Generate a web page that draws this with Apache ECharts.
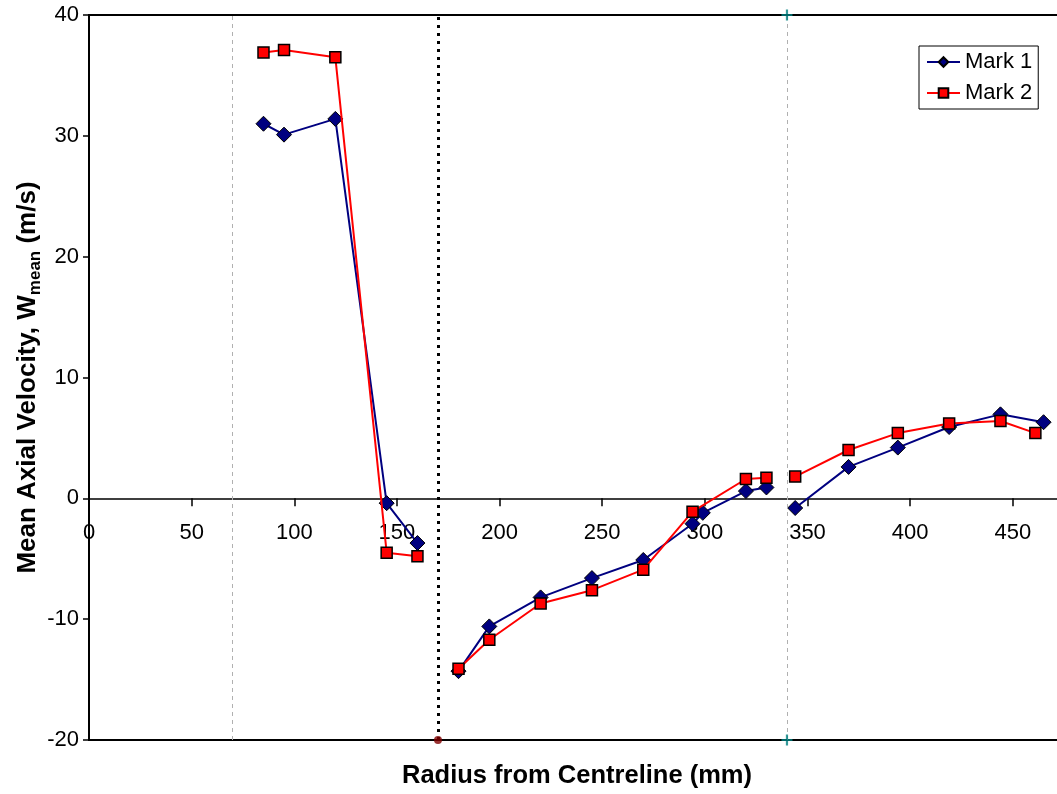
<!DOCTYPE html>
<html>
<head>
<meta charset="utf-8">
<script src="https://cdn.jsdelivr.net/npm/echarts@6/dist/echarts.min.js"></script>
<style>html,body{margin:0;padding:0;background:#fff}#c{width:1057px;height:794px}</style>
</head>
<body>
<div id="c"></div>
<script>
// Data (x in mm, y in m/s); null marks a gap in the line
var x1 =    [85, 95, 120, 145, 160, 170, 180, 195, 220, 245, 270, 294, 299, 320, 330, 337, 344, 370, 394, 419, 444, 465];
var mark1 = [31.0, 30.1, 31.4, -0.4, -3.7, null, -14.3, -10.6, -8.2, -6.6, -5.1, -2.1, -1.2, 0.6, 0.9, null, -0.8, 2.6, 4.2, 5.9, 6.95, 6.3];
var x2 =    [85, 95, 120, 145, 160, 170, 180, 195, 220, 245, 270, 294, 320, 330, 337, 344, 370, 394, 419, 444, 461];
var mark2 = [36.9, 37.1, 36.5, -4.5, -4.8, null, -14.1, -11.7, -8.7, -7.6, -5.9, -1.1, 1.6, 1.7, null, 1.8, 4.0, 5.4, 6.2, 6.4, 5.4];
var guideLinesGray = [70, 340];
var guideLineBlack = 170;
var crossPts = [[340, 40], [340, -20]];
var dotPts = [[170, -20]];
var xTicks = [0, 50, 100, 150, 200, 250, 300, 350, 400, 450];
var yTicks = [-20, -10, 0, 10, 20, 30, 40];

function pairs(xs, ys) { return xs.map(function (x, i) { return [x, ys[i] === null ? '-' : ys[i]]; }); }

var FONT = 'Liberation Sans, Arial, sans-serif';
var chart = echarts.init(document.getElementById('c'), null, {renderer: 'canvas'});
var crossPath = 'path://M4,0 L6,0 L6,4 L10,4 L10,6 L6,6 L6,10 L4,10 L4,6 L0,6 L0,4 L4,4 Z';
var X_MAX = 473;
var xLabelFmt = function (v) { return xTicks.indexOf(v) >= 0 ? String(v) : ''; };

chart.setOption({
  animation: false,
  backgroundColor: '#fff',
  title: {
    text: 'Radius from Centreline (mm)', left: 577, top: 763, textAlign: 'center', padding: 0,
    textStyle: {fontFamily: FONT, fontSize: 25.5, fontWeight: 'bold', color: '#000'}
  },
  grid: {left: 89, right: -3, top: 15, bottom: 54, containLabel: false, outerBoundsMode: 'none',
    show: true, borderColor: '#000', borderWidth: 2, backgroundColor: 'transparent'},
  legend: {
    left: 919, top: 46, orient: 'vertical',
    backgroundColor: '#fff', borderColor: '#000', borderWidth: 1,
    padding: [5, 6, 5, 7], itemGap: 9, itemWidth: 33, itemHeight: 12,
    textStyle: {fontFamily: FONT, fontSize: 22, color: '#000'},
    data: ['Mark 1', 'Mark 2']
  },
  xAxis: [{
    type: 'value', min: 0, max: X_MAX, interval: 50, z: 0,
    axisLine: {onZero: true, lineStyle: {color: '#000', width: 1.5}},
    axisTick: {show: true, length: 8, lineStyle: {color: '#000', width: 1.5}},
    axisLabel: {show: false},
    splitLine: {show: false}
  }, {
    type: 'value', min: 0, max: X_MAX, interval: 50, position: 'bottom', offset: -242, z: 0,
    axisLine: {show: false, onZero: false},
    axisTick: {show: false},
    axisLabel: {fontFamily: FONT, fontSize: 22, color: '#000', margin: 24, showMaxLabel: false, formatter: xLabelFmt},
    splitLine: {show: false}
  }],
  yAxis: {
    type: 'value', min: -20, max: 40, interval: 10,
    name: '{a|Mean Axial Velocity, W}{s|mean}{a| (m/s)}', nameLocation: 'middle', nameGap: 48, nameRotate: 90,
    nameMoveOverlap: false,
    nameTextStyle: {rich: {
      a: {fontFamily: FONT, fontSize: 26, fontWeight: 'bold', color: '#000', lineHeight: 28, verticalAlign: 'bottom'},
      s: {fontFamily: FONT, fontSize: 17, fontWeight: 'bold', color: '#000', lineHeight: 22, verticalAlign: 'bottom', padding: [0, 0, -3, 0]}
    }},
    axisLine: {show: true, lineStyle: {color: '#000', width: 1.5}},
    axisTick: {show: true, length: 6, lineStyle: {color: '#000', width: 1.5}},
    axisLabel: {fontFamily: FONT, fontSize: 22, color: '#000', margin: 10,
      formatter: function (v) { return yTicks.indexOf(v) >= 0 ? String(v) : ''; }},
    splitLine: {show: false}
  },
  series: [
    {
      name: 'Mark 1', type: 'line', data: pairs(x1, mark1), connectNulls: false,
      symbol: 'diamond', symbolSize: 15,
      lineStyle: {color: '#000080', width: 2},
      itemStyle: {color: '#000080', borderColor: '#000', borderWidth: 1},
      z: 3,
      markLine: {
        silent: true, symbol: 'none', label: {show: false},
        data: guideLinesGray.map(function (v) { return {xAxis: v, lineStyle: {color: '#b0b0b0', width: 1, type: [4, 4]}}; })
          .concat([{xAxis: guideLineBlack, lineStyle: {color: '#000', width: 3, type: [3, 5]}}])
      }
    },
    {
      name: 'Mark 2', type: 'line', data: pairs(x2, mark2), connectNulls: false,
      symbol: 'rect', symbolSize: 11,
      lineStyle: {color: '#ff0000', width: 2},
      itemStyle: {color: '#ff0000', borderColor: '#000', borderWidth: 1.5},
      z: 4
    },
    {
      name: 'guide', type: 'scatter', data: crossPts, symbol: crossPath, symbolSize: 11,
      itemStyle: {color: '#008080'}, silent: true, z: 5, clip: false
    },
    {
      name: 'guide2', type: 'scatter', data: dotPts, symbol: 'circle', symbolSize: 8,
      itemStyle: {color: '#800000'}, silent: true, z: 5, clip: false
    }
  ]
});
</script>
</body>
</html>
